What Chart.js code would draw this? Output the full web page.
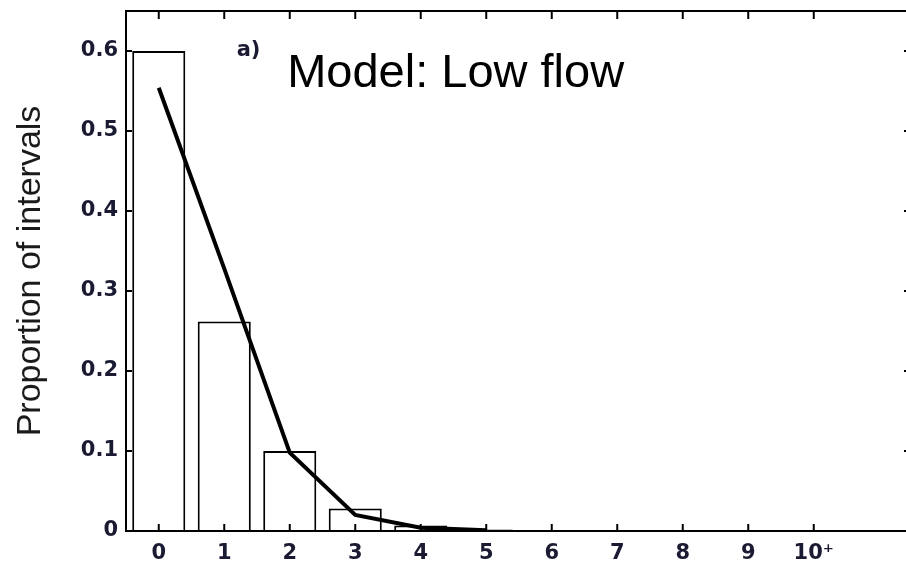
<!DOCTYPE html>
<html>
<head>
<meta charset="utf-8">
<script src="https://cdn.jsdelivr.net/npm/chart.js@4"></script>
<style>
  html, body { margin: 0; padding: 0; background: #fff; overflow: hidden; }
  #wrap { position: relative; width: 914px; height: 569px; }
</style>
</head>
<body>
<div id="wrap"><canvas id="myChart"></canvas></div>
<script>
// Categories (number of events per interval), last one is "10+"
const categories = [0, 1, 2, 3, 4, 5, 6, 7, 8, 9, 10];
const tickLabels = ['0', '1', '2', '3', '4', '5', '6', '7', '8', '9', '10\u207A'];
const yTicks = [0, 0.1, 0.2, 0.3, 0.4, 0.5, 0.6];

// Observed proportions (bars)
const observed = [0.6, 0.262, 0.1, 0.028, 0.007, 0.002];
// Model proportions (line)
const model = [0.554, 0.328, 0.098, 0.02, 0.004, 0.001];

const labelColor = '#1a1a33';
const tickFont = { family: 'DejaVu Sans', size: 21, weight: 'bold' };

// Matlab style box with inward ticks, plus the panel texts
const boxPlugin = {
    id: 'box',
    afterDatasetsDraw(chart) {
        const { ctx, chartArea: a, scales } = chart;
        ctx.save();
        ctx.strokeStyle = '#000';
        ctx.lineWidth = 2;
        ctx.strokeRect(a.left, a.top, a.right - a.left, a.bottom - a.top);
        ctx.beginPath();
        categories.forEach(v => {
            const x = scales.x.getPixelForValue(v);
            ctx.moveTo(x, a.bottom); ctx.lineTo(x, a.bottom - 7);
            ctx.moveTo(x, a.top); ctx.lineTo(x, a.top + 8);
        });
        yTicks.slice(1).forEach(v => {
            const y = scales.y.getPixelForValue(v);
            ctx.moveTo(a.left, y); ctx.lineTo(a.left + 6, y);
            ctx.moveTo(a.right, y); ctx.lineTo(a.right - 8, y);
        });
        ctx.stroke();

        // panel label and title
        ctx.fillStyle = labelColor;
        ctx.font = 'bold 21px "DejaVu Sans"';
        ctx.textBaseline = 'alphabetic';
        ctx.fillText('a)', scales.x.getPixelForValue(1.19), scales.y.getPixelForValue(0.594));
        ctx.fillStyle = '#000';
        ctx.font = '47px "Liberation Sans"';
        ctx.fillText('Model: Low flow', scales.x.getPixelForValue(1.96), scales.y.getPixelForValue(0.555));
        ctx.restore();
    }
};

new Chart(document.getElementById('myChart'), {
    data: {
        datasets: [{
            type: 'line',
            order: 0,
            data: model.map((v, i) => ({ x: categories[i], y: v })),
            borderColor: '#000',
            borderWidth: 4,
            pointRadius: 0,
            tension: 0,
            fill: false
        }, {
            type: 'bar',
            order: 1,
            data: observed.map((v, i) => ({ x: categories[i], y: v })),
            backgroundColor: '#fff',
            borderColor: '#000',
            borderWidth: 2,
            borderSkipped: 'bottom',
            categoryPercentage: 1,
            barPercentage: 0.81
        }]
    },
    options: {
        responsive: true,
        maintainAspectRatio: false,
        animation: false,
        layout: { padding: { top: 11, right: 2, left: 0, bottom: 0 } },
        plugins: { legend: { display: false }, tooltip: { enabled: false } },
        scales: {
            x: {
                type: 'linear',
                offset: false,
                min: -0.5,
                max: 11.5,
                grid: { display: false, drawTicks: false, offset: false },
                border: { display: false },
                afterBuildTicks: s => { s.ticks = categories.map(v => ({ value: v })); },
                afterFit: s => { s.height = 38; s.paddingLeft = 0; s.paddingRight = 0; },
                ticks: {
                    autoSkip: false,
                    maxRotation: 0,
                    padding: 10,
                    color: labelColor,
                    font: tickFont,
                    callback: v => tickLabels[categories.indexOf(v)]
                }
            },
            y: {
                min: 0,
                max: 0.65,
                grid: { display: false, drawTicks: false },
                border: { display: false },
                afterBuildTicks: s => { s.ticks = yTicks.map(v => ({ value: v })); },
                afterFit: s => { s.width = 126; s.paddingTop = 0; s.paddingBottom = 0; },
                ticks: {
                    padding: 8,
                    color: labelColor,
                    font: tickFont,
                    callback: v => v === 0 ? '0' : v.toFixed(1)
                },
                title: {
                    display: true,
                    text: 'Proportion of intervals',
                    color: '#1a1a1a',
                    font: { family: 'Liberation Sans', size: 34 },
                    padding: { top: 10, bottom: 0 }
                }
            }
        }
    },
    plugins: [boxPlugin]
});
</script>
</body>
</html>
